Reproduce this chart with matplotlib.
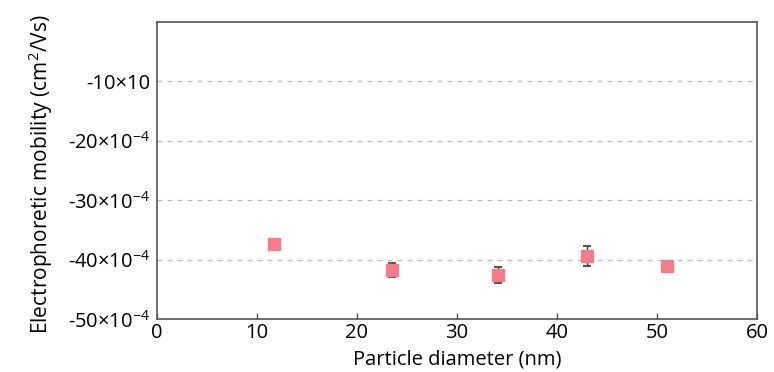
import matplotlib
matplotlib.use("Agg")
import matplotlib.pyplot as plt

diameter = [11.7, 23.5, 34.1, 43.0, 51.0]
mobility = [-37.4, -41.8, -42.6, -39.4, -41.1]
mobility_err = [0.4, 1.2, 1.3, 1.7, 0.4]
xticks = [0, 10, 20, 30, 40, 50, 60]
yticks = [-50, -40, -30, -20, -10]
ytick_labels = [r'-50×10$^{-4}$', r'-40×10$^{-4}$', r'-30×10$^{-4}$', r'-20×10$^{-4}$', '-10×10']

FONT = 'Open Sans'
plt.rcParams['font.family'] = [FONT, 'DejaVu Sans']
plt.rcParams['mathtext.fontset'] = 'custom'
plt.rcParams['mathtext.rm'] = FONT
plt.rcParams['mathtext.it'] = FONT
plt.rcParams['mathtext.bf'] = FONT

fig = plt.figure(figsize=(7.74, 3.72), dpi=100)
ax = fig.add_axes([157/774, 1-319/372, 600/774, 297/372])

ax.errorbar(diameter, mobility, yerr=mobility_err, fmt='s', color='#F27D8D',
            markersize=9, ecolor='#333333', elinewidth=1, capsize=3, capthick=1.2,
            zorder=3)

ax.set_xlim(0, 60)
ax.set_ylim(-50, 0)
ax.set_xticks(xticks)
ax.set_yticks(yticks)
ax.set_yticklabels(ytick_labels)
for y in yticks[1:]:
    ax.axhline(y, color='#bbbbbb', linestyle=(0, (4, 4)), linewidth=0.9, zorder=1)

ax.tick_params(axis='x', direction='in', length=4, width=1, labelsize=14.5, pad=3, color='#555555')
ax.tick_params(axis='y', length=0, labelsize=14.5, pad=5)
for s in ax.spines.values():
    s.set_color('#555555')
    s.set_linewidth(1.2)

ax.set_xlabel('Particle diameter (nm)', fontsize=14.5)
ax.xaxis.set_label_coords(0.5, -0.105, transform=None) if False else None
ax.set_ylabel(r'Electrophoretic mobility (cm$^{2}$/Vs)', fontsize=15)

fig.canvas.draw()
# place labels in figure pixel coordinates
ax.xaxis.set_label_coords(457/774, 1-360/372, transform=fig.transFigure)
ax.yaxis.set_label_coords(41/774, 1-174/372, transform=fig.transFigure)
ax.xaxis.label.set_va('center')
ax.yaxis.label.set_va('center')

fig.savefig('out.png', dpi=100)
